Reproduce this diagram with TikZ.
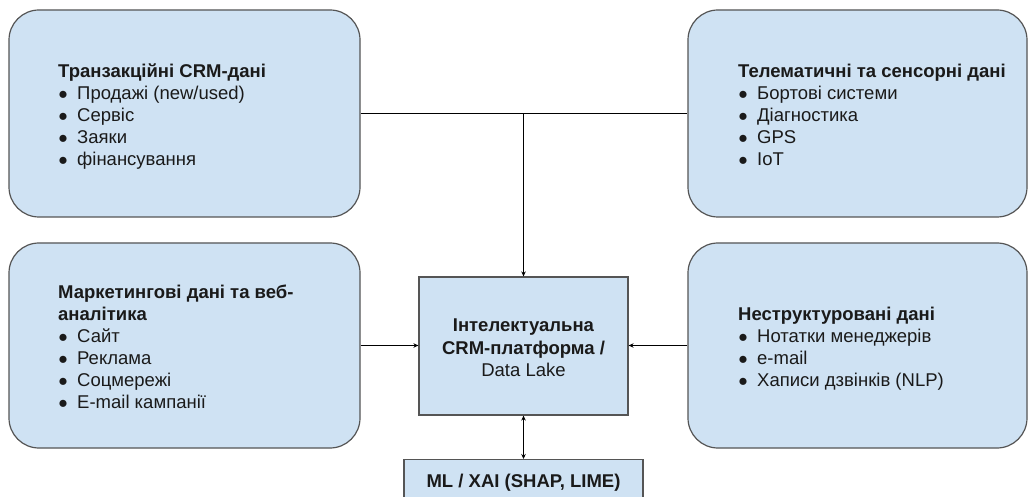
\documentclass[tikz,border=0pt]{standalone}
\usepackage{fontspec}
\setmainfont{Liberation Sans}
\usetikzlibrary{arrows.meta}
\definecolor{boxfill}{HTML}{CFE2F3}
\definecolor{boxline}{HTML}{555555}
\definecolor{txtcol}{HTML}{1A1A1A}
\tikzset{
  srcbox/.style={draw=boxline, fill=boxfill, line width=1.2pt, rounded corners=30pt, inner sep=0pt},
  sqbox/.style={draw=boxline, fill=boxfill, line width=1.2pt, inner sep=0pt},
  txt/.style={inner sep=0pt, align=left, anchor=north west, text=txtcol, font=\fontsize{18.5}{22}\selectfont},
  ctxt/.style={inner sep=0pt, align=center, anchor=north, text=txtcol, font=\fontsize{18.5}{22}\selectfont},
  conn/.style={line width=1.1pt, draw=black},
  arr/.style={conn, -{Stealth[length=5pt,width=4.5pt]}},
  biarr/.style={conn, {Stealth[length=5pt,width=4.5pt]}-{Stealth[length=5pt,width=4.5pt]}}
}
\newcommand{\bul}{\makebox[19pt][l]{\fontsize{16.5}{16.5}\selectfont ●}}
\begin{document}
\begin{tikzpicture}[x=1pt,y=-1pt]
\clip (0,0) rectangle (1029,497);
\fill[white] (0,0) rectangle (1029,497);
% boxes
\node[srcbox, minimum width=351pt, minimum height=207pt] (tl) at (184.5,113.5) {};
\node[srcbox, minimum width=339pt, minimum height=207pt] (tr) at (857.5,113.5) {};
\node[srcbox, minimum width=351pt, minimum height=205pt] (bl) at (184.5,345.5) {};
\node[srcbox, minimum width=339pt, minimum height=205pt] (br) at (857.5,345.5) {};
\node[sqbox, minimum width=209pt, minimum height=138pt] (crm) at (523.5,346) {};
\node[sqbox, minimum width=239pt, minimum height=60pt, anchor=north] (ml) at (523.5,459) {};
% texts (top = first baseline - 15.4)
\node[txt] (tlt) at (58,61.6) {\strut\textbf{Транзакційні CRM-дані}\\
\bul Продажі (new/used)\\ \bul Сервіс\\ \bul Заяки\\ \bul фінансування};
\node[txt] (trt) at (738,61.6) {\strut\textbf{Телематичні та сенсорні дані}\\
\bul Бортові системи\\ \bul Діагностика\\ \bul GPS\\ \bul IoT};
\node[txt] (blt) at (58,282.6) {\strut\textbf{Маркетингові дані та веб-}\\\textbf{аналітика}\\
\bul Сайт\\ \bul Реклама\\ \bul Соцмережі\\ \bul E-mail кампанії};
\node[txt] (brt) at (738,304.6) {\strut\textbf{Неструктуровані дані}\\
\bul Нотатки менеджерів\\ \bul e-mail\\ \bul Хаписи дзвінків (NLP)};
\node[ctxt] (crmt) at (523.5,316.4) {\strut\textbf{Інтелектуальна}\\\textbf{CRM-платформа /}\\Data Lake};
\node[ctxt] (mlt) at (523.5,471.4) {\strut\textbf{ML / XAI (SHAP, LIME)}};
% connectors
\coordinate (j) at (crm.north |- tl.east);
\draw[conn] (tl.east) -- (tr.west);
\draw[arr] (j) -- (crm.north);
\draw[arr] (bl.east) -- (bl.east -| crm.west);
\draw[arr] (br.west) -- (br.west -| crm.east);
\draw[biarr] (crm.south) -- (ml.north);
\end{tikzpicture}
\end{document}
